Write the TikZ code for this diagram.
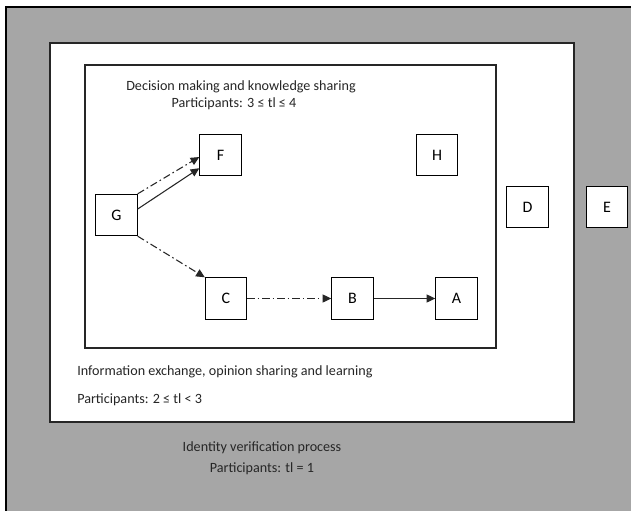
\documentclass[tikz,border=0pt]{standalone}
\usepackage{fontspec}
\setmainfont{Carlito}
\usetikzlibrary{arrows.meta}
\begin{document}
\begin{tikzpicture}[x=0.75pt,y=-0.75pt,
  box/.style={draw=black,line width=0.8pt,fill=white,minimum width=31pt,minimum height=31pt,inner sep=0pt,font=\fontsize{12}{14}\selectfont},
  lbl/.style={inner sep=0pt,font=\fontsize{10.6}{12}\selectfont,text=black!85},
  tip/.style={-{Triangle[length=6.5pt,width=6pt]}},
  solidarr/.style={tip,draw=black!85,line width=0.8pt},
  dasharr/.style={tip,draw=black!85,line width=0.8pt,dash pattern=on 5.5pt off 2.3pt on 1.2pt off 2.3pt}]
\useasboundingbox (0,0) rectangle (631,510);
\clip (0,0) rectangle (631,510);
% outer region: identity verification
\fill[white] (0,0) rectangle (631,510);
\draw[fill={rgb,255:red,166;green,166;blue,166},line width=1.1pt] (6,7) rectangle (660,540);
% middle region: information exchange
\draw[fill=white,draw=black!85,line width=0.8pt] (50,43) rectangle (574,422);
% inner region: decision making
\draw[fill=white,draw=black!85,line width=0.8pt] (85,65) rectangle (496,348);

% nodes
\node[box] (F) at (220.5,155) {F};
\node[box] (G) at (116.5,215) {G};
\node[box] (H) at (437,155) {H};
\node[box] (C) at (226,298.5) {C};
\node[box] (B) at (352.5,298.5) {B};
\node[box] (A) at (456.5,298.5) {A};
\node[box] (D) at (527.5,207) {D};
\node[box] (E) at (607,207) {E};

% connectors
\draw[dasharr] (G.north east) -- ([yshift=-1.5pt]F.west);
\draw[solidarr] ([yshift=4.5pt]G.east) -- ([yshift=6pt]F.south west);
\draw[dasharr] (G.south east) -- (C.north west);
\draw[dasharr] (C.east) -- (B.west);
\draw[solidarr] (B.east) -- (A.west);

% labels
\node[lbl] (t1) at (241,87) {Decision making and knowledge sharing};
\node[lbl] (t2) at (234,104) {Participants: 3 ≤ tl ≤ 4};
\node[lbl,anchor=west] (t3) at (77,372) {Information exchange, opinion sharing and learning};
\node[lbl,anchor=west] (t4) at (77,400) {Participants: 2 ≤ tl < 3};
\node[lbl] (t5) at (262,448) {Identity verification process};
\node[lbl] (t6) at (262,469) {Participants: tl = 1};
\end{tikzpicture}
\end{document}
